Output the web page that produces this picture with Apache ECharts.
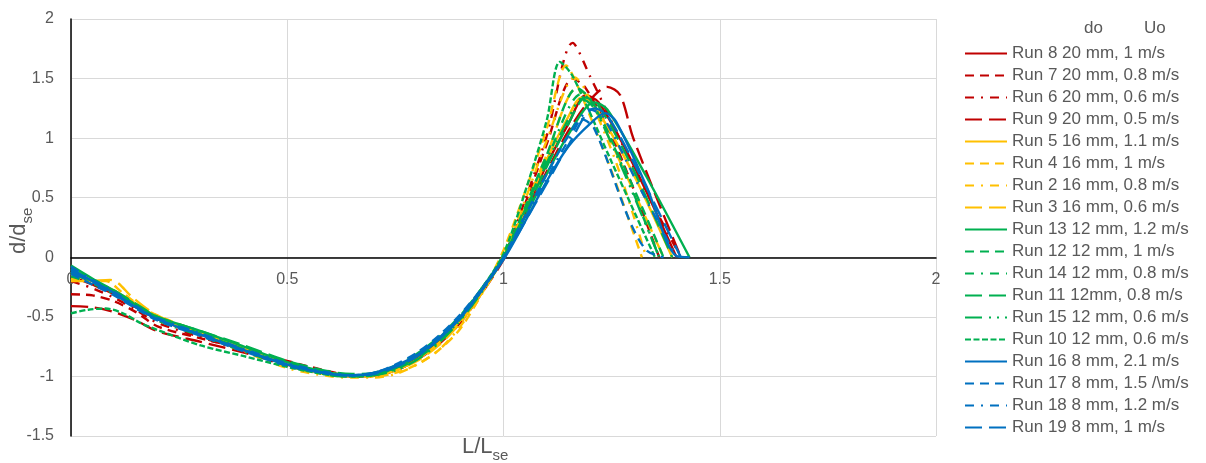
<!DOCTYPE html>
<html>
<head>
<meta charset="utf-8">
<script src="https://cdn.jsdelivr.net/npm/echarts@6/dist/echarts.min.js"></script>
<style>
html, body { margin: 0; padding: 0; background: #fff; }
#chart { width: 1206px; height: 463px; }
</style>
</head>
<body>
<div id="chart"></div>
<script>
// values, [L/Lse, d/dse]
var run8 = [[0,-0.16],[0.05,-0.23],[0.1,-0.31],[0.15,-0.42],[0.2,-0.52],[0.3,-0.65],[0.4,-0.78],[0.5,-0.90],[0.6,-0.98],[0.65,-1.0],[0.7,-0.99],[0.75,-0.94],[0.8,-0.85],[0.85,-0.71],[0.9,-0.52],[0.95,-0.28],[1,0],[1.05,0.38],[1.1,0.78],[1.15,1.12],[1.19,1.36],[1.22,1.30],[1.3,0.78],[1.4,0]];
var run7 = [[0,-0.31],[0.05,-0.32],[0.1,-0.37],[0.15,-0.46],[0.2,-0.58],[0.3,-0.68],[0.4,-0.77],[0.5,-0.87],[0.6,-0.96],[0.65,-0.99],[0.7,-0.99],[0.75,-0.95],[0.8,-0.86],[0.85,-0.72],[0.9,-0.53],[0.95,-0.29],[1,0],[1.05,0.45],[1.1,0.95],[1.16,1.50],[1.19,1.42],[1.26,0.94],[1.36,0]];
var run6 = [[0,-0.2],[0.05,-0.26],[0.1,-0.34],[0.15,-0.44],[0.2,-0.55],[0.3,-0.67],[0.4,-0.79],[0.5,-0.91],[0.6,-0.98],[0.65,-1.0],[0.7,-1.0],[0.75,-0.95],[0.8,-0.85],[0.85,-0.72],[0.9,-0.53],[0.95,-0.28],[1,0],[1.05,0.48],[1.1,1.02],[1.16,1.80],[1.2,1.52],[1.3,0.76],[1.41,0]];
var run9 = [[0,-0.41],[0.05,-0.42],[0.1,-0.46],[0.15,-0.53],[0.2,-0.62],[0.3,-0.71],[0.4,-0.80],[0.5,-0.90],[0.6,-0.97],[0.65,-0.99],[0.7,-0.99],[0.75,-0.95],[0.8,-0.86],[0.85,-0.73],[0.9,-0.55],[0.95,-0.30],[1,-0.02],[1.05,0.35],[1.1,0.72],[1.15,1.06],[1.2,1.32],[1.24,1.43],[1.27,1.36],[1.3,1.0],[1.41,0]];
var run5 = [[0,-0.15],[0.05,-0.2],[0.1,-0.28],[0.15,-0.39],[0.2,-0.50],[0.3,-0.63],[0.4,-0.76],[0.5,-0.89],[0.6,-0.97],[0.65,-0.99],[0.7,-0.99],[0.75,-0.95],[0.8,-0.86],[0.85,-0.72],[0.9,-0.53],[0.95,-0.28],[1,0],[1.05,0.40],[1.1,0.82],[1.15,1.18],[1.18,1.34],[1.21,1.27],[1.3,0.70],[1.39,0]];
var run4 = [[0,-0.18],[0.04,-0.2],[0.08,-0.2],[0.12,-0.3],[0.16,-0.41],[0.2,-0.49],[0.3,-0.63],[0.4,-0.77],[0.5,-0.91],[0.6,-0.99],[0.65,-1.0],[0.7,-1.0],[0.75,-0.97],[0.8,-0.9],[0.85,-0.78],[0.9,-0.6],[0.95,-0.3],[1,0.06],[1.05,0.55],[1.1,1.08],[1.145,1.61],[1.17,1.45],[1.25,0.72],[1.32,0]];
var run2 = [[0,-0.14],[0.05,-0.21],[0.1,-0.3],[0.15,-0.41],[0.2,-0.51],[0.3,-0.65],[0.4,-0.79],[0.5,-0.93],[0.6,-1.0],[0.65,-1.01],[0.7,-1.01],[0.75,-0.98],[0.8,-0.9],[0.85,-0.78],[0.9,-0.58],[0.95,-0.31],[1,0.02],[1.05,0.48],[1.1,0.98],[1.165,1.51],[1.19,1.40],[1.26,0.80],[1.33,0]];
var run3 = [[0,-0.2],[0.04,-0.2],[0.09,-0.19],[0.11,-0.22],[0.14,-0.33],[0.2,-0.49],[0.3,-0.63],[0.4,-0.76],[0.5,-0.9],[0.6,-0.98],[0.65,-1.0],[0.7,-0.99],[0.75,-0.95],[0.8,-0.87],[0.85,-0.74],[0.9,-0.55],[0.95,-0.3],[1,0],[1.05,0.42],[1.1,0.86],[1.17,1.42],[1.2,1.32],[1.28,0.72],[1.37,0]];
var run13 = [[0,-0.07],[0.05,-0.18],[0.1,-0.28],[0.15,-0.4],[0.2,-0.5],[0.3,-0.62],[0.4,-0.75],[0.5,-0.88],[0.6,-0.97],[0.65,-0.99],[0.7,-0.98],[0.75,-0.93],[0.8,-0.83],[0.85,-0.69],[0.9,-0.5],[0.95,-0.26],[1,0],[1.05,0.34],[1.1,0.7],[1.15,1.03],[1.21,1.30],[1.24,1.24],[1.33,0.68],[1.43,0]];
var run12 = [[0,-0.12],[0.05,-0.2],[0.1,-0.29],[0.15,-0.4],[0.2,-0.51],[0.3,-0.64],[0.4,-0.77],[0.5,-0.9],[0.6,-0.97],[0.65,-0.99],[0.7,-0.98],[0.75,-0.92],[0.8,-0.82],[0.85,-0.68],[0.9,-0.5],[0.95,-0.27],[1,0.01],[1.05,0.42],[1.1,0.86],[1.17,1.42],[1.2,1.33],[1.28,0.75],[1.37,0]];
var run14 = [[0,-0.16],[0.05,-0.22],[0.1,-0.31],[0.15,-0.42],[0.2,-0.53],[0.3,-0.66],[0.4,-0.79],[0.5,-0.91],[0.6,-0.98],[0.65,-1.0],[0.7,-0.99],[0.75,-0.94],[0.8,-0.85],[0.85,-0.71],[0.9,-0.52],[0.95,-0.28],[1,0],[1.05,0.4],[1.1,0.82],[1.18,1.37],[1.21,1.28],[1.28,0.72],[1.36,0]];
var run11 = [[0,-0.1],[0.05,-0.19],[0.1,-0.28],[0.15,-0.39],[0.2,-0.5],[0.3,-0.62],[0.4,-0.74],[0.5,-0.87],[0.6,-0.96],[0.65,-0.98],[0.7,-0.97],[0.75,-0.91],[0.8,-0.81],[0.85,-0.67],[0.9,-0.49],[0.95,-0.26],[1,0],[1.05,0.37],[1.1,0.76],[1.15,1.12],[1.19,1.34],[1.22,1.27],[1.3,0.74],[1.39,0]];
var run15 = [[0,-0.13],[0.05,-0.21],[0.1,-0.3],[0.15,-0.41],[0.2,-0.52],[0.3,-0.65],[0.4,-0.78],[0.5,-0.91],[0.6,-0.99],[0.65,-1.0],[0.7,-0.99],[0.75,-0.95],[0.8,-0.86],[0.85,-0.72],[0.9,-0.53],[0.95,-0.29],[1,0],[1.05,0.39],[1.1,0.79],[1.15,1.16],[1.18,1.33],[1.21,1.25],[1.28,0.7],[1.36,0]];
var run10 = [[0,-0.47],[0.04,-0.44],[0.08,-0.43],[0.12,-0.47],[0.16,-0.55],[0.2,-0.61],[0.3,-0.74],[0.4,-0.83],[0.5,-0.92],[0.6,-0.99],[0.65,-1.0],[0.7,-0.99],[0.75,-0.93],[0.8,-0.83],[0.85,-0.69],[0.9,-0.5],[0.95,-0.26],[1,0.03],[1.05,0.55],[1.1,1.15],[1.13,1.64],[1.16,1.52],[1.25,0.8],[1.35,0]];
var run16 = [[0,-0.1],[0.05,-0.2],[0.1,-0.3],[0.15,-0.42],[0.2,-0.52],[0.3,-0.65],[0.4,-0.78],[0.5,-0.9],[0.6,-0.98],[0.65,-0.99],[0.7,-0.97],[0.75,-0.91],[0.8,-0.82],[0.85,-0.68],[0.9,-0.5],[0.95,-0.27],[1,-0.02],[1.05,0.3],[1.1,0.64],[1.15,0.93],[1.2,1.12],[1.235,1.21],[1.26,1.14],[1.33,0.6],[1.4,0.01],[1.43,0]];
var run17 = [[0,-0.14],[0.05,-0.23],[0.1,-0.32],[0.15,-0.43],[0.2,-0.53],[0.3,-0.66],[0.4,-0.79],[0.5,-0.91],[0.6,-0.98],[0.65,-0.99],[0.7,-0.97],[0.75,-0.9],[0.8,-0.8],[0.85,-0.66],[0.9,-0.48],[0.95,-0.26],[1,0],[1.05,0.35],[1.1,0.7],[1.15,1.02],[1.18,1.16],[1.21,1.08],[1.29,0.32],[1.33,0.06],[1.37,0]];
var run18 = [[0,-0.08],[0.05,-0.19],[0.1,-0.29],[0.15,-0.41],[0.2,-0.51],[0.3,-0.64],[0.4,-0.77],[0.5,-0.89],[0.6,-0.97],[0.65,-0.99],[0.7,-0.97],[0.75,-0.92],[0.8,-0.83],[0.85,-0.69],[0.9,-0.51],[0.95,-0.27],[1,0],[1.05,0.33],[1.1,0.66],[1.15,0.98],[1.2,1.24],[1.23,1.18],[1.31,0.62],[1.4,0]];
var run19 = [[0,-0.12],[0.05,-0.21],[0.1,-0.31],[0.15,-0.42],[0.2,-0.52],[0.3,-0.65],[0.4,-0.78],[0.5,-0.9],[0.6,-0.98],[0.65,-0.99],[0.7,-0.98],[0.75,-0.92],[0.8,-0.83],[0.85,-0.69],[0.9,-0.51],[0.95,-0.28],[1,-0.01],[1.05,0.3],[1.1,0.62],[1.15,0.94],[1.21,1.25],[1.24,1.19],[1.32,0.66],[1.41,0]];

var runNames = [
	'Run 8 20 mm, 1 m/s', 'Run 7 20 mm, 0.8 m/s', 'Run 6 20 mm, 0.6 m/s', 'Run 9 20 mm, 0.5 m/s',
	'Run 5 16 mm, 1.1 m/s', 'Run 4 16 mm, 1 m/s', 'Run 2 16 mm, 0.8 m/s', 'Run 3 16 mm, 0.6 m/s',
	'Run 13 12 mm, 1.2 m/s', 'Run 12 12 mm, 1 m/s', 'Run 14 12 mm, 0.8 m/s', 'Run 11 12mm, 0.8 m/s',
	'Run 15 12 mm, 0.6 m/s', 'Run 10 12 mm, 0.6 m/s',
	'Run 16 8 mm, 2.1 m/s', 'Run 17 8 mm, 1.5 /\\m/s', 'Run 18 8 mm, 1.2 m/s', 'Run 19 8 mm, 1 m/s'
];
var runData = [run8, run7, run6, run9, run5, run4, run2, run3, run13, run12, run14, run11, run15, run10, run16, run17, run18, run19];

// styles
var red = '#C00000', orange = '#FFC000', green = '#00B050', blue = '#0070C0';
var runColors = [red, red, red, red, orange, orange, orange, orange, green, green, green, green, green, green, blue, blue, blue, blue];
var solid = 'solid', dash = [9, 6], dashDot = [9, 7, 2, 7], lgDash = [17, 7],
	lgDashDotDot = [17, 7, 2, 6, 2, 6], sysDash = [6, 2.5];
var runDash = [solid, dash, dashDot, lgDash, solid, dash, dashDot, lgDash,
	solid, dash, dashDot, lgDash, lgDashDotDot, sysDash, solid, dash, dashDot, lgDash];

var textColor = '#595959';
var fontName = 'Liberation Sans';

var chart = echarts.init(document.getElementById('chart'));

var series = [];
for (var i = 0; i < runData.length; i++) {
	series.push({
		name: runNames[i],
		type: 'line',
		data: runData[i],
		smooth: 0.3,
		symbol: 'none',
		animation: false,
		lineStyle: { color: runColors[i], width: 2.4, type: runDash[i], cap: 'butt' },
		itemStyle: { color: runColors[i] }
	});
}

// grid: top 19, height 417, y range -1.5..2 -> zero line sits 178.7px above the bottom
var option = {
	animation: false,
	textStyle: { fontFamily: fontName },
	grid: { left: 71, right: 270, top: 19, bottom: 27 },
	xAxis: {
		type: 'value',
		min: 0,
		max: 2,
		interval: 0.5,
		offset: -178.7,
		axisLine: { onZero: false, lineStyle: { color: '#000', width: 1.5 } },
		axisTick: { show: false },
		axisLabel: { color: textColor, fontSize: 16, margin: 14, fontFamily: fontName },
		splitLine: { show: true, lineStyle: { color: '#d9d9d9', width: 1 } }
	},
	yAxis: {
		type: 'value',
		min: -1.5,
		max: 2,
		interval: 0.5,
		axisLine: { show: true, lineStyle: { color: '#000', width: 1.5 } },
		axisTick: { show: false },
		axisLabel: { color: textColor, fontSize: 16, margin: 17, fontFamily: fontName },
		splitLine: { show: true, lineStyle: { color: '#d9d9d9', width: 1 } }
	},
	legend: {
		orient: 'vertical',
		left: 959,
		top: 40,
		itemWidth: 42,
		itemHeight: 14,
		itemGap: 5,
		data: runNames,
		itemStyle: { opacity: 0, borderWidth: 0 },
		textStyle: { color: textColor, fontSize: 17, fontFamily: fontName }
	},
	graphic: [
		{ type: 'text', left: 1084, top: 20, style: { text: 'do', fill: textColor, font: '17px ' + fontName } },
		{ type: 'text', left: 1144, top: 20, style: { text: 'Uo', fill: textColor, font: '17px ' + fontName } },
		{
			type: 'text', left: 462, top: 436,
			style: {
				text: '{a|L/L}{b|se}',
				fill: textColor,
				rich: {
					a: { fontSize: 22, fontFamily: fontName, fill: textColor, verticalAlign: 'bottom', lineHeight: 26 },
					b: { fontSize: 15, fontFamily: fontName, fill: textColor, verticalAlign: 'bottom', lineHeight: 26, padding: [0, 0, -5, 0] }
				}
			}
		},
		{
			type: 'text', x: 4, y: 254, rotation: Math.PI / 2,
			style: {
				text: '{a|d/d}{b|se}',
				fill: textColor,
				rich: {
					a: { fontSize: 22, fontFamily: fontName, fill: textColor, verticalAlign: 'bottom', lineHeight: 26 },
					b: { fontSize: 15, fontFamily: fontName, fill: textColor, verticalAlign: 'bottom', lineHeight: 26, padding: [0, 0, -5, 0] }
				}
			}
		}
	],
	series: series
};

chart.setOption(option);
</script>
</body>
</html>
